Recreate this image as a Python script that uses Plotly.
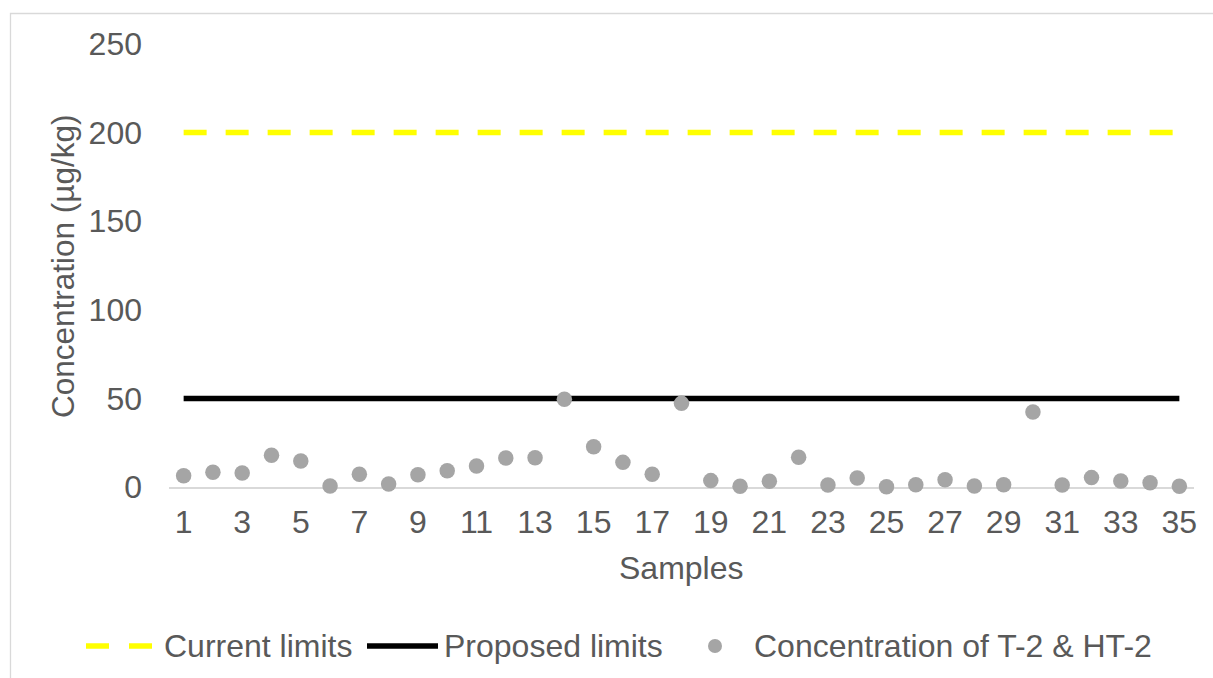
import plotly.graph_objects as go

# Sample numbers and measured T-2 + HT-2 concentrations (µg/kg)
samples = list(range(1, 36))
concentration = [6.4, 8.3, 7.9, 17.9, 14.7, 0.6, 7.2, 1.7, 6.9, 9.2,
                 11.9, 16.4, 16.5, 49.5, 22.7, 13.9, 7.2, 47.2, 3.6, 0.4,
                 3.2, 16.8, 1.1, 5.1, 0.2, 1.3, 4.1, 0.6, 1.3, 42.3,
                 1.1, 5.3, 3.4, 2.4, 0.4]
current_limit = [200] * len(samples)
proposed_limit = [50] * len(samples)

x_tick_vals = list(range(1, 36, 2))
x_tick_text = [str(v) for v in x_tick_vals]
y_tick_vals = [0, 50, 100, 150, 200, 250]

legend_labels = ["Current limits", "Proposed limits", "Concentration of T-2 & HT-2"]

W, H = 1213, 678
L, R, T, B = 169, 19, 44, 191
PW, PH = W - L - R, H - T - B

FONT = "Liberation Sans, Arial, sans-serif"
TEXT = "#595959"
GRID = "#d9d9d9"
YELLOW = "#ffff00"
BLACK = "#000000"
GREY = "#a5a5a5"
FS = 32


def px(xp):
    return (xp - L) / PW


def py(yp):
    return (H - B - yp) / PH


fig = go.Figure()
fig.add_trace(go.Scatter(x=samples, y=current_limit, mode="lines",
                         line=dict(color=YELLOW, width=5.5, dash="23px,19px"),
                         name=legend_labels[0], showlegend=False))
fig.add_trace(go.Scatter(x=samples, y=proposed_limit, mode="lines",
                         line=dict(color=BLACK, width=5.5),
                         name=legend_labels[1], showlegend=False))
fig.add_trace(go.Scatter(x=samples, y=concentration, mode="markers",
                         marker=dict(color=GREY, size=15.5),
                         cliponaxis=False,
                         name=legend_labels[2], showlegend=False))

shapes = [
    # outer chart frame
    dict(type="rect", xref="paper", yref="paper",
         x0=px(10.5), y0=py(700), x1=px(1240), y1=py(13.5),
         line=dict(color=GRID, width=1.3), fillcolor="rgba(0,0,0,0)", layer="below"),
    # legend symbols
    dict(type="line", xref="paper", yref="paper", x0=px(86), x1=px(109),
         y0=py(646), y1=py(646), line=dict(color=YELLOW, width=5.5)),
    dict(type="line", xref="paper", yref="paper", x0=px(129), x1=px(152),
         y0=py(646), y1=py(646), line=dict(color=YELLOW, width=5.5)),
    dict(type="line", xref="paper", yref="paper", x0=px(367), x1=px(438),
         y0=py(646), y1=py(646), line=dict(color=BLACK, width=5.5)),
    dict(type="circle", xref="paper", yref="paper", x0=px(708), x1=px(722),
         y0=py(653), y1=py(639), line=dict(width=0), fillcolor=GREY),
]

annotations = [
    dict(text="Concentration (µg/kg)", xref="paper", yref="paper",
         x=px(63), y=py(266), textangle=-90, showarrow=False,
         xanchor="center", yanchor="middle", font=dict(size=31.5, color=TEXT, family=FONT)),
    dict(text="Samples", xref="paper", yref="paper",
         x=px(681), y=py(568), showarrow=False,
         xanchor="center", yanchor="middle", font=dict(size=FS, color=TEXT, family=FONT)),
    dict(text=legend_labels[0], xref="paper", yref="paper", x=px(162), y=py(646),
         showarrow=False, xanchor="left", yanchor="middle",
         font=dict(size=FS, color=TEXT, family=FONT)),
    dict(text=legend_labels[1], xref="paper", yref="paper", x=px(442), y=py(646),
         showarrow=False, xanchor="left", yanchor="middle",
         font=dict(size=FS, color=TEXT, family=FONT)),
    dict(text=legend_labels[2], xref="paper", yref="paper", x=px(752), y=py(646),
         showarrow=False, xanchor="left", yanchor="middle",
         font=dict(size=FS, color=TEXT, family=FONT)),
]

fig.update_layout(
    width=W, height=H,
    margin=dict(l=L, r=R, t=T, b=B),
    paper_bgcolor="white", plot_bgcolor="white",
    showlegend=False,
    font=dict(family=FONT, size=FS, color=TEXT),
    shapes=shapes,
    annotations=annotations,
    xaxis=dict(range=[0.5, 35.5], tickmode="array", tickvals=x_tick_vals,
               ticktext=x_tick_text, showgrid=False, zeroline=False,
               showline=True, linecolor=GRID, linewidth=2, ticks="",
               layer="below traces", ticklabelstandoff=6,
               tickfont=dict(size=FS, color=TEXT, family=FONT)),
    yaxis=dict(range=[0, 250], tickmode="array", tickvals=y_tick_vals,
               showgrid=False, zeroline=False, showline=False, ticks="",
               ticklabelstandoff=26,
               tickfont=dict(size=FS, color=TEXT, family=FONT)),
)

fig.write_html("out.html")
